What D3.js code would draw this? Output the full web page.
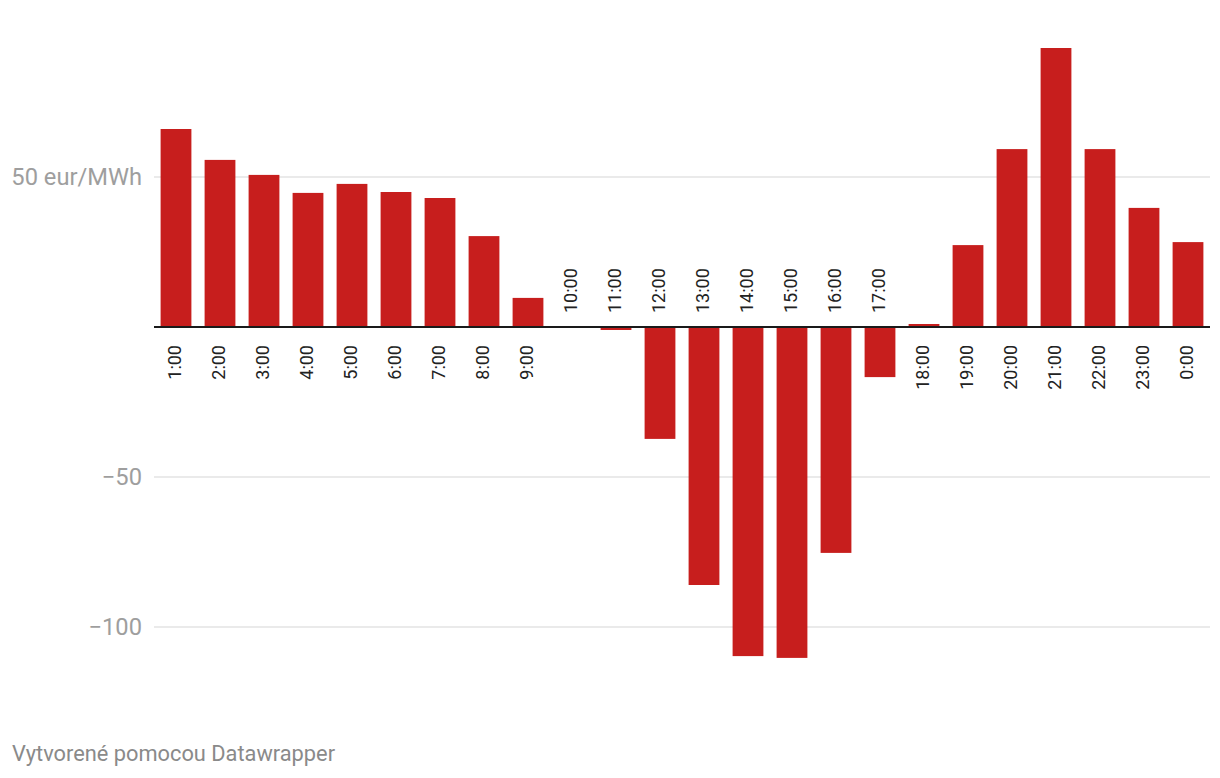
<!DOCTYPE html>
<html>
<head>
<meta charset="utf-8">
<script src="https://cdn.jsdelivr.net/npm/d3@7"></script>
<style>
  html, body { margin: 0; padding: 0; background: #fff; }
  svg { display: block; font-family: Roboto, "Noto Sans", sans-serif; }
</style>
</head>
<body>
<svg id="chart" width="1220" height="778"></svg>
<script>
const hours = ["1:00","2:00","3:00","4:00","5:00","6:00","7:00","8:00","9:00","10:00","11:00","12:00",
               "13:00","14:00","15:00","16:00","17:00","18:00","19:00","20:00","21:00","22:00","23:00","0:00"];
const prices = [66, 55.7, 50.7, 44.7, 47.7, 45, 43, 30.3, 9.7, 0, -1, -37.3,
                -86, -109.7, -110.3, -75.3, -16.7, 1, 27.3, 59.3, 93, 59.3, 39.7, 28.3];
const yTicks = [50, -50, -100];
const yTickLabels = ["50 eur/MWh", "−50", "−100"];
const footerText = "Vytvorené pomocou Datawrapper";

const svg = d3.select("#chart");
const left = 154, right = 1210;
const x = d3.scaleBand().domain(hours).range([left, right]).paddingInner(0.3).paddingOuter(0.15);
const y = d3.scaleLinear().domain([-120, 100]).range([687, 27]);

// gridlines
svg.append("g").selectAll("line").data(yTicks).join("line")
  .attr("x1", left).attr("x2", right)
  .attr("y1", d => y(d)).attr("y2", d => y(d))
  .attr("stroke", "#e3e3e3").attr("stroke-width", 1.5);

// y labels
svg.append("g").selectAll("text").data(yTicks).join("text")
  .attr("x", 142).attr("y", d => y(d)).attr("dy", "0.35em")
  .attr("text-anchor", "end")
  .attr("fill", "#9e9e9e").attr("font-size", 23.7)
  .text((d, i) => yTickLabels[i]);

// bars
svg.append("g").selectAll("rect").data(prices).join("rect")
  .attr("x", (d, i) => x(hours[i]))
  .attr("width", x.bandwidth())
  .attr("y", d => y(Math.max(0, d)))
  .attr("height", d => Math.abs(y(d) - y(0)))
  .attr("fill", "#c71e1d");

// zero line
svg.append("line")
  .attr("x1", left).attr("x2", right)
  .attr("y1", y(0)).attr("y2", y(0))
  .attr("stroke", "#1a1a1a").attr("stroke-width", 2);

// x labels
svg.append("g").selectAll("text").data(prices).join("text")
  .attr("transform", (d, i) => {
    const cx = x(hours[i]) + x.bandwidth() / 2 - 1;
    const ty = d > 0 ? y(0) + 18 : y(0) - 14;
    return `translate(${cx},${ty}) rotate(-90)`;
  })
  .attr("dy", "0.35em")
  .attr("text-anchor", d => d > 0 ? "end" : "start")
  .attr("fill", "#222").attr("font-size", 18)
  .text((d, i) => hours[i]);

// footer
svg.append("text")
  .attr("x", 12).attr("y", 761)
  .attr("fill", "#8a8a8a").attr("font-size", 21.8)
  .text(footerText);
</script>
</body>
</html>
